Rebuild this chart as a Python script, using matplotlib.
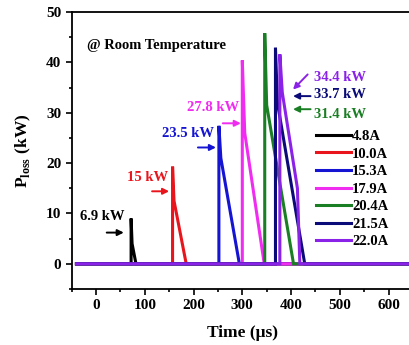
import matplotlib

matplotlib.use("Agg")

import matplotlib.pyplot as plt
from matplotlib.ticker import MultipleLocator

plt.rcParams["font.family"] = ["Liberation Serif", "DejaVu Serif"]
plt.rcParams["font.weight"] = "bold"

# pulse key points: time (us) and P_loss (kW)
LABELS = ["4.8A", "10.0A", "15.3A", "17.9A", "20.4A", "21.5A", "22.0A"]
COLORS = ["#000000", "#e8161c", "#1414d2", "#f02cf0", "#1a7f24", "#0a0a78", "#8a22e8"]

T_48 = [-40, 72, 72, 74, 82, 650]
P_48 = [0, 0, 9.0, 4.0, 0, 0]
T_100 = [-40, 157, 157, 160, 185, 650]
P_100 = [0, 0, 19.3, 12.5, 0, 0]
T_153 = [-40, 252, 252, 256, 294, 650]
P_153 = [0, 0, 27.4, 21.0, 0, 0]
T_179 = [-40, 300, 300, 305, 345, 650]
P_179 = [0, 0, 40.4, 26.0, 0, 0]
T_204 = [-40, 346, 346, 350, 405, 650]
P_204 = [0, 0, 45.8, 31.5, 0, 0]
T_215 = [-40, 368, 368, 372, 428, 650]
P_215 = [0, 0, 42.9, 32.0, 0, 0]
T_220 = [-40, 377, 377, 382, 413, 418, 650]
P_220 = [0, 0, 41.6, 34.0, 15.0, 0, 0]

TIMES = [T_48, T_100, T_153, T_179, T_204, T_215, T_220]
POWERS = [P_48, P_100, P_153, P_179, P_204, P_215, P_220]

# energy annotations: text, colour index, text pos, arrow tail, arrow head
NOTES = [
    ("6.9 kW", 0, (12, 9.3), (22, 6.2), (57, 6.2)),
    ("15 kW", 1, (105, 17.2), (115, 14.4), (150, 14.4)),
    ("23.5 kW", 2, (189, 25.8), (209, 23.1), (246, 23.1)),
    ("27.8 kW", 3, (240, 31.1), (260, 27.9), (297, 27.9)),
    ("34.4 kW", 6, (500, 37.0), (434, 37.6), (404, 34.6)),
    ("33.7 kW", 5, (500, 33.6), (440, 33.3), (404, 33.3)),
    ("31.4 kW", 4, (500, 29.7), (440, 30.7), (404, 30.7)),
]


def main():
    fig = plt.figure(figsize=(4.09, 3.45), dpi=100)
    ax = fig.add_axes([71.6 / 409, 56 / 345, 341.4 / 409, 277 / 345])

    for t, p, c, lab in zip(TIMES, POWERS, COLORS, LABELS):
        ax.plot(t, p, color=c, lw=2.2, label=lab, solid_joinstyle="miter")

    for text, ci, tpos, tail, head in NOTES:
        ax.text(tpos[0], tpos[1], text, color=COLORS[ci], fontsize=10.5,
                fontweight="bold", ha="center", va="center")
        ax.annotate("", xy=head, xytext=tail,
                    arrowprops=dict(arrowstyle="-|>", color=COLORS[ci], lw=1.4,
                                    mutation_scale=9, shrinkA=0, shrinkB=0))

    ax.text(-18, 43.4, "@ Room Temperature", fontsize=10.5, fontweight="bold",
            ha="left", va="center")

    ax.set_xlim(-50, 650)
    ax.set_ylim(-5, 50)
    ax.xaxis.set_major_locator(MultipleLocator(100))
    ax.xaxis.set_minor_locator(MultipleLocator(50))
    ax.yaxis.set_major_locator(MultipleLocator(10))
    ax.yaxis.set_minor_locator(MultipleLocator(5))
    ax.tick_params(which="both", direction="out", width=1.2, labelsize=11)
    ax.tick_params(which="major", length=4)
    ax.tick_params(which="minor", length=2.5)
    for lbl in ax.get_xticklabels() + ax.get_yticklabels():
        lbl.set_fontweight("bold")
    for s in ax.spines.values():
        s.set_linewidth(1.3)

    ax.set_xlabel("Time (μs)", fontsize=12.5, fontweight="bold", labelpad=9)
    ax.set_ylabel(r"P$_{\mathregular{loss}}$ (kW)", fontsize=12.5,
                  fontweight="bold", labelpad=9)

    ax.legend(loc="upper left", bbox_to_anchor=(0.715, 0.575), frameon=False,
              handlelength=2.4, handletextpad=0.1, labelspacing=0.3,
              borderpad=0, borderaxespad=0,
              prop={"size": 10.5, "weight": "bold"})

    fig.savefig("out.png", dpi=100)
    plt.close(fig)


if __name__ == "__main__":
    main()
